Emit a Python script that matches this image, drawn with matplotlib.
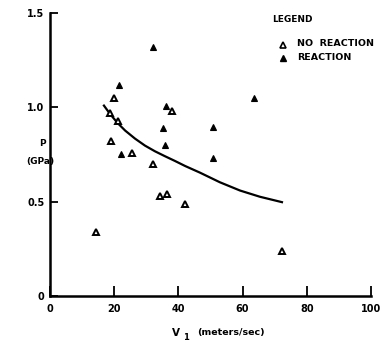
import matplotlib
matplotlib.use("Agg")
import matplotlib.pyplot as plt

# No reaction (open triangles)
v_no = [19.9, 18.7, 21.2, 38.0, 19.0, 25.5, 32.1, 34.3, 36.4, 42.1, 14.3, 72.3]
p_no = [1.05, 0.97, 0.925, 0.98, 0.82, 0.76, 0.70, 0.53, 0.54, 0.49, 0.34, 0.24]

# Reaction (filled triangles)
v_re = [32.1, 21.5, 36.1, 35.2, 35.8, 22.1, 63.6, 50.8, 50.8]
p_re = [1.32, 1.12, 1.005, 0.89, 0.80, 0.755, 1.05, 0.895, 0.73]

# Threshold curve
v_curve = [16.6, 18.7, 21.0, 23.4, 26.5, 29.6, 32.7, 35.8, 38.9, 42.1, 46.7, 52.9, 59.2, 65.4, 72.6]
p_curve = [1.014, 0.965, 0.918, 0.877, 0.834, 0.797, 0.767, 0.741, 0.716, 0.689, 0.654, 0.603, 0.559, 0.526, 0.496]

x_ticks = [0, 20, 40, 60, 80, 100]
y_ticks = [0, 0.5, 1.0, 1.5]
y_tick_labels = ["0", "0.5", "1.0", "1.5"]

plt.rcParams['font.family'] = ['DejaVu Sans']
fig = plt.figure(figsize=(3.81, 3.48), dpi=100)
ax = fig.add_axes([50/381, 52/348, 321/381, 283/348])

ax.plot(v_curve, p_curve, color='black', lw=1.6, solid_capstyle='butt', solid_joinstyle='round')
ax.plot(v_no, p_no, linestyle='none', marker='^', markersize=4.6, markerfacecolor='white',
        markeredgecolor='black', markeredgewidth=1.4)
ax.plot(v_re, p_re, linestyle='none', marker='^', markersize=5, markerfacecolor='black',
        markeredgecolor='black', markeredgewidth=0.8)

ax.set_xlim(0, 100)
ax.set_ylim(0, 1.5)
for s in ['top', 'right']:
    ax.spines[s].set_visible(False)
for s in ['left', 'bottom']:
    ax.spines[s].set_linewidth(1.8)

ax.set_xticks(x_ticks)
ax.set_xticklabels([str(t) for t in x_ticks], fontsize=7, fontweight='bold')
ax.set_yticks(y_ticks)
ax.set_yticklabels(y_tick_labels, fontsize=7, fontweight='bold')
ax.tick_params(axis='x', direction='in', length=7, width=1.3, pad=6)
ax.tick_params(axis='y', direction='in', length=6, width=1.3, pad=4)

# axis labels
fig.text(42/381, 1 - 143/348, "P", fontsize=6.5, fontweight='bold', ha='center', va='center')
fig.text(40/381, 1 - 162/348, "(GPa)", fontsize=6.5, fontweight='bold', ha='center', va='center')
fig.text(176/381, 1 - 333/348, "V", fontsize=7.5, fontweight='bold', ha='center', va='center')
fig.text(186/381, 1 - 338/348, "1", fontsize=6, fontweight='bold', ha='center', va='center')
fig.text(197/381, 1 - 333/348, "(meters/sec)", fontsize=6.8, fontweight='bold', ha='left', va='center')

# legend
fig.text(272/381, 1 - 20/348, "LEGEND", fontsize=6.5, fontweight='bold', ha='left', va='center')
ax.plot([283/381], [1 - 45/348], transform=fig.transFigure, marker='^', markersize=4,
        markerfacecolor='white', markeredgecolor='black', markeredgewidth=1.2, clip_on=False)
ax.plot([283/381], [1 - 58/348], transform=fig.transFigure, marker='^', markersize=4,
        markerfacecolor='black', markeredgecolor='black', clip_on=False)
fig.text(297/381, 1 - 44/348, "NO  REACTION", fontsize=6.8, fontweight='bold', ha='left', va='center')
fig.text(297/381, 1 - 58/348, "REACTION", fontsize=6.8, fontweight='bold', ha='left', va='center')

fig.savefig("out.png", dpi=100)
